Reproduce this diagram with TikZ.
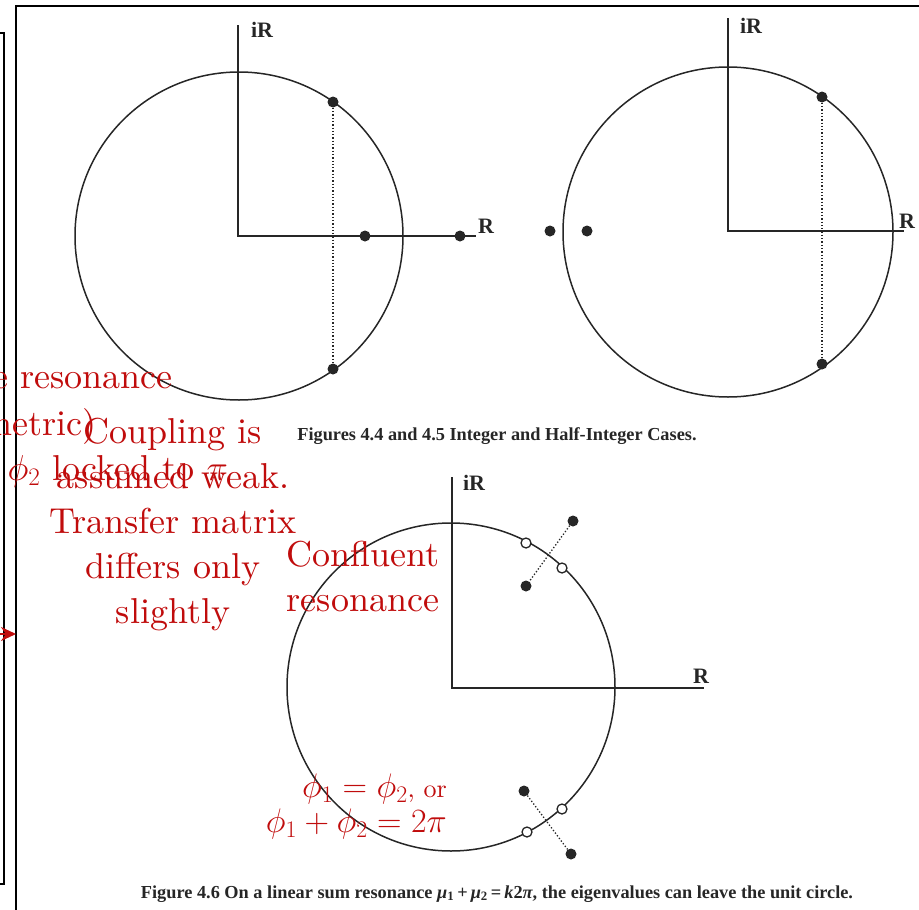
\RequirePackage{fix-cm}
\documentclass[tikz,border=0pt]{standalone}
\usepackage{fontspec}
\newfontfamily\capfont{Liberation Serif}
\newfontfamily\notefont{lmroman10-regular.otf}
\usetikzlibrary{arrows.meta}
\definecolor{redtxt}{RGB}{192,12,12}
\definecolor{inkc}{RGB}{38,38,38}
\begin{document}
\begin{tikzpicture}[x=1pt,y=-1pt,
  ucirc/.style={circle,draw=inkc,line width=1.5pt,inner sep=0pt},
  axisline/.style={draw=inkc,line width=1.2pt},
  fdot/.style={circle,fill=inkc,inner sep=0pt,minimum size=11pt},
  odot/.style={circle,draw=inkc,fill=white,line width=1.3pt,inner sep=0pt,minimum size=10pt},
  vline/.style={draw=inkc,dotted,line width=1.3pt},
  axlab/.style={font=\capfont\bfseries\fontsize{22}{22}\selectfont,text=inkc,inner sep=0pt},
  capt/.style={font=\capfont\bfseries\fontsize{18.3}{20}\selectfont,text=inkc,inner sep=0pt},
  note/.style={font=\notefont\fontsize{36}{45}\selectfont,text=redtxt,inner sep=0pt},
  framed/.style={draw=black,line width=2pt}
]
\useasboundingbox (0,0) rectangle (919,910);

% frames
\coordinate (fA1) at (919,6);
\coordinate (fA2) at (16,6);
\coordinate (fA3) at (16,910);
\draw[framed] (fA1) -- (fA2) -- (fA3);
\coordinate (fB1) at (0,33);
\coordinate (fB2) at (4,33);
\coordinate (fB3) at (4,884);
\coordinate (fB4) at (0,884);
\draw[framed] (fB1) -- (fB2) -- (fB3) -- (fB4);
\coordinate (arS) at (0,634);
\coordinate (arE) at (16,634);
\draw[redtxt,line width=2pt,-{Stealth[length=15pt,width=14pt]}] (arS) -- (arE);

% Figure 4.4
\node[ucirc,minimum size=328pt] (uc1) at (239,236) {};
\coordinate (o1) at (238,236);
\coordinate (im1) at (238,25);
\coordinate (re1) at (476,236);
\draw[axisline] (im1) -- (o1) -- (re1);
\node[axlab] (iR1) at (262,30) {iR};
\node[axlab] (R1) at (486,226) {R};
\node[fdot] (p1a) at (333,102) {};
\node[fdot] (p1b) at (333,369) {};
\node[fdot] (p1c) at (365,236) {};
\node[fdot] (p1d) at (460,236) {};
\draw[vline] (p1a) -- (p1b);

% Figure 4.5
\node[ucirc,minimum size=330pt] (uc2) at (728,232) {};
\coordinate (o2) at (728,231);
\coordinate (im2) at (728,18);
\coordinate (re2) at (904,231);
\draw[axisline] (im2) -- (o2) -- (re2);
\node[axlab] (iR2) at (751,26) {iR};
\node[axlab] (R2) at (907,221) {R};
\node[fdot] (p2a) at (822,97) {};
\node[fdot] (p2b) at (822,364) {};
\node[fdot] (p2c) at (550,231) {};
\node[fdot] (p2d) at (587,231) {};
\draw[vline] (p2a) -- (p2b);

\node[capt,anchor=base] (cap1) at (497,440) {Figures 4.4 and 4.5 Integer and Half-Integer Cases.};

% Figure 4.6
\node[ucirc,minimum size=328pt] (uc3) at (451,687) {};
\coordinate (o3) at (452,688);
\coordinate (im3) at (452,477);
\coordinate (re3) at (704,688);
\draw[axisline] (im3) -- (o3) -- (re3);
\node[axlab] (iR3) at (474,483) {iR};
\node[axlab] (R3) at (701,676) {R};
\node[fdot] (q1) at (573,521) {};
\node[fdot] (q2) at (526,586) {};
\draw[vline] (q1) -- (q2);
\node[odot] (q3) at (526,543) {};
\node[odot] (q4) at (562,568) {};
\node[fdot] (q5) at (524,791) {};
\node[fdot] (q6) at (571,854) {};
\draw[vline] (q5) -- (q6);
\node[odot] (q7) at (527,832) {};
\node[odot] (q8) at (562,809) {};

\node[capt,anchor=base] (cap2) at (497,898) {Figure 4.6 On a linear sum resonance {\itshape μ}\textsubscript{1}\,+\,{\itshape μ}\textsubscript{2}\,=\,{\itshape k}2{\itshape π}, the eigenvalues can leave the unit circle.};

% red notes
\node[note,anchor=base east] (nA1) at (173,388) {e resonance};
\node[note,anchor=base east] (nA2) at (97,435) {metric)};
\node[note,anchor=base east] (nA3) at (228,480) {$\phi_2$ locked to $\pi$};
\node[note,align=center,anchor=north] (nB) at (173,418) {Coupling is\\assumed weak.\\Transfer matrix\\differs only\\slightly};
\node[note,align=center,anchor=north] (nC) at (363,541) {Confluent\\resonance};
\node[text=redtxt,inner sep=0pt,anchor=base east,font=\notefont\fontsize{26}{35}\selectfont] (nD1) at (447,797) {{\fontsize{34}{35}\selectfont$\phi_1=\phi_2$}, or};
\node[text=redtxt,inner sep=0pt,anchor=base east,font=\notefont\fontsize{34}{35}\selectfont] (nD2) at (447,832) {$\phi_1+\phi_2=2\pi$};
\end{tikzpicture}
\end{document}
